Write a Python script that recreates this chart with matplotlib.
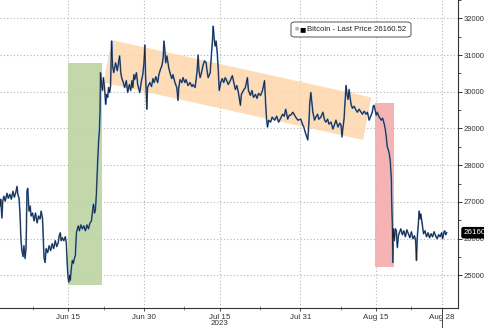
import pandas as pd
import matplotlib
matplotlib.use("Agg")
import matplotlib.pyplot as plt
import matplotlib.dates as mdates
from matplotlib.patches import Rectangle, Polygon, FancyBboxPatch

# bitcoin price, days counted from 2023-06-01 00:00
days = [
    0.46, 0.6, 0.84, 1.0, 1.24, 1.5, 1.84, 2.1, 2.43, 2.7, 3.03, 3.3, 3.6, 3.83, 4.0, 4.23, 4.4, 4.63, 4.8, 5.03,
    5.2, 5.43, 5.62, 5.82, 5.95, 6.1, 6.22, 6.45, 6.62, 6.9, 7.22, 7.5, 7.82, 8.1, 8.4, 8.62, 8.9, 9.05, 9.21, 9.4,
    9.61, 9.9, 10.21, 10.5, 10.81, 11.1, 11.41, 11.7, 12.01, 12.2, 12.41, 12.6, 12.8, 13.1, 13.4, 13.6, 13.8, 13.95, 14.1, 14.25,
    14.4, 14.6, 14.8, 15.0, 15.2, 15.4, 15.6, 15.8, 16.0, 16.2, 16.5, 16.79, 17.1, 17.39, 17.7, 17.99, 18.3, 18.59, 18.8, 18.99,
    19.2, 19.39, 19.59, 19.7, 19.79, 20.0, 20.18, 20.28, 20.38, 20.55, 20.78, 20.95, 21.18, 21.4, 21.58, 21.8, 21.98, 22.2, 22.38, 22.58,
    22.7, 22.78, 23.0, 23.37, 23.7, 24.17, 24.4, 24.57, 24.9, 25.17, 25.5, 25.77, 26.1, 26.37, 26.6, 26.77, 27.0, 27.16, 27.5, 27.76,
    28.16, 28.5, 28.76, 29.0, 29.16, 29.3, 29.45, 29.56, 29.7, 30.16, 30.5, 30.76, 31.0, 31.35, 31.7, 31.95, 32.3, 32.55, 32.8, 32.95,
    33.1, 33.3, 33.55, 33.9, 34.15, 34.5, 34.74, 35.14, 35.5, 35.74, 35.9, 36.14, 36.5, 36.74, 37.1, 37.34, 37.74, 38.13, 38.5, 38.73,
    39.13, 39.5, 39.73, 39.9, 40.13, 40.4, 40.73, 41.0, 41.32, 41.5, 41.72, 42.12, 42.4, 42.6, 42.72, 42.9, 43.12, 43.3, 43.52, 43.7,
    43.92, 44.2, 44.52, 44.8, 45.11, 45.4, 45.71, 46.1, 46.51, 46.8, 47.11, 47.4, 47.71, 48.11, 48.3, 48.7, 49.1, 49.3, 49.5, 49.7,
    50.1, 50.4, 50.7, 51.1, 51.4, 51.7, 52.1, 52.49, 52.7, 52.89, 53.1, 53.29, 53.49, 53.7, 54.09, 54.4, 54.89, 55.3, 55.68, 56.1,
    56.48, 56.8, 57.08, 57.3, 57.48, 57.8, 58.08, 58.5, 59.08, 59.5, 60.07, 60.4, 60.67, 61.07, 61.47, 61.7, 61.87, 62.07, 62.3, 62.47,
    62.8, 63.06, 63.4, 63.66, 64.06, 64.46, 64.8, 65.06, 65.4, 65.66, 66.06, 66.45, 66.8, 67.05, 67.45, 67.8, 68.05, 68.25, 68.45, 68.65,
    68.85, 69.05, 69.25, 69.45, 69.65, 69.85, 70.05, 70.3, 70.64, 71.04, 71.3, 71.64, 72.04, 72.3, 72.64, 73.04, 73.3, 73.63, 74.03, 74.25,
    74.43, 74.6, 74.83, 75.03, 75.23, 75.63, 76.03, 76.3, 76.63, 76.85, 77.02, 77.22, 77.42, 77.62, 77.82, 78.02, 78.12, 78.22, 78.32, 78.42,
    78.52, 78.62, 78.82, 79.02, 79.22, 79.42, 79.62, 79.9, 80.22, 80.5, 80.81, 81.1, 81.41, 81.7, 82.01, 82.3, 82.61, 82.85, 83.01, 83.15,
    83.35, 83.55, 83.7, 83.85, 84.01, 84.2, 84.41, 84.7, 85.0, 85.3, 85.6, 85.9, 86.2, 86.5, 86.8, 87.1, 87.4, 87.7, 88.0, 88.2,
    88.4, 88.6, 88.79, 88.99,
]
prices = [
    26886, 27074, 26562, 27020, 27155, 27020, 27235, 27100, 27208, 27074, 27290, 27128, 27262, 27424, 27208, 27100, 26750, 25944, 25674, 25512,
    25808, 25459, 25728, 27290, 27370, 27020, 26750, 26886, 26616, 26697, 26482, 26697, 26428, 26616, 26535, 26750, 26535, 25944, 25459, 25351,
    25728, 25620, 25808, 25674, 25862, 25728, 25944, 25782, 25890, 26078, 26159, 25944, 26024, 25944, 26051, 25890, 25270, 24947, 24813, 25001,
    24866, 25190, 25405, 25324, 25459, 25540, 26159, 26267, 26347, 26213, 26374, 26267, 26347, 26213, 26374, 26267, 26428, 26482, 26750, 26940,
    26697, 26804, 27290, 27693, 28016, 28635, 28985, 29443, 30520, 30250, 30035, 30385, 30116, 29658, 29927, 29847, 30116, 29981, 30170, 31381,
    30923, 30708, 30520, 30789, 30573, 30977, 30520, 30385, 30250, 30116, 30304, 29981, 30197, 30035, 30304, 30116, 30466, 30331, 30520, 30197,
    29981, 30304, 30466, 30789, 31273, 30520, 29981, 29524, 30116, 30250, 30143, 30358, 30250, 30412, 30250, 30466, 30627, 30708, 30923, 31381,
    31193, 30789, 30977, 30654, 30520, 30358, 30466, 30250, 30116, 29766, 30116, 30331, 30250, 30385, 30250, 30331, 30170, 30250, 30143, 30197,
    30116, 30520, 31004, 30573, 30385, 30520, 30735, 30843, 30789, 30573, 30385, 30520, 31058, 31462, 31785, 31462, 31246, 31381, 31058, 30654,
    30035, 30250, 30358, 30250, 30385, 30304, 30197, 30304, 30439, 30250, 30062, 30170, 29981, 29631, 29927, 30035, 30116, 30250, 30385, 30035,
    29901, 30035, 29847, 29927, 29820, 29954, 29901, 30035, 30170, 30304, 29712, 29254, 29039, 29227, 29174, 29308, 29227, 29335, 29174, 29281,
    29389, 29335, 29524, 29389, 29254, 29362, 29362, 29443, 29308, 29227, 29254, 29120, 29039, 28851, 28689, 29174, 29712, 29981, 29658, 29443,
    29227, 29308, 29389, 29254, 29308, 29443, 29227, 29174, 29254, 29120, 29174, 28985, 29120, 29227, 29039, 29147, 29093, 28770, 29039, 29254,
    29712, 30170, 29927, 29793, 30062, 29847, 29658, 29551, 29604, 29497, 29443, 29524, 29443, 29389, 29470, 29389, 29443, 29227, 29362, 29443,
    29604, 29631, 29497, 29362, 29443, 29308, 29227, 29281, 29120, 28958, 28770, 28500, 28420, 28312, 28097, 27639, 26885, 26401, 25351, 26266,
    26159, 25944, 26266, 26213, 25755, 26078, 26159, 26266, 26105, 26213, 26051, 26240, 26132, 26024, 26186, 25997, 26078, 25944, 25405, 25997,
    26347, 26750, 26536, 26670, 26536, 26347, 26132, 26213, 26051, 26159, 26024, 26132, 26051, 26186, 26078, 25997, 26105, 26051, 26159, 25997,
    26159, 26213, 26105, 26160.52,
]

last_price = 26160.52
y_ticks = [25000, 26000, 27000, 28000, 29000, 30000, 31000, 32000]
x_ticks = ["2023-06-15", "2023-06-30", "2023-07-15", "2023-07-31", "2023-08-15", "2023-08-28"]
x_tick_labels = ["Jun 15", "Jun 30", "Jul 15\n2023", "Jul 31", "Aug 15", "Aug 28"]
x_minor = ["2023-06-08", "2023-06-22", "2023-07-08", "2023-07-23", "2023-08-08", "2023-08-22"]

# highlighted zones (start day, end day, low, high)
green_zone = (14.0, 20.58, 24750, 30780)
red_zone = (74.83, 78.62, 25215, 29685)
# falling channel corners (day, price)
channel = [(22.58, 31408), (74.03, 29846), (72.44, 28688), (20.98, 30250)]

start = pd.Timestamp("2023-06-01")
def to_num(d):
    return mdates.date2num(start + pd.to_timedelta(d, unit="D"))

dates = start + pd.to_timedelta(days, unit="D")

plt.rcParams['font.family'] = ['Liberation Sans', 'DejaVu Sans']
fig = plt.figure(figsize=(4.85, 3.28), dpi=100)
ax = fig.add_axes([0, 1 - 308 / 328, 458 / 485, 308 / 328])

# shaded zones
g0, g1 = to_num(green_zone[0]), to_num(green_zone[1])
ax.add_patch(Rectangle((g0, green_zone[2]), g1 - g0, green_zone[3] - green_zone[2],
                       facecolor="#bcd4a2", edgecolor="none", alpha=0.9, zorder=1))
r0, r1 = to_num(red_zone[0]), to_num(red_zone[1])
ax.add_patch(Rectangle((r0, red_zone[2]), r1 - r0, red_zone[3] - red_zone[2],
                       facecolor="#f5abab", edgecolor="none", alpha=0.9, zorder=1))
ax.add_patch(Polygon([(to_num(d), p) for d, p in channel], closed=True,
                     facecolor="#fdd6ab", edgecolor="none", alpha=0.85, zorder=1))

# price line
ax.plot(dates, prices, color="#4d80c2", lw=1.2, zorder=3)
ax.plot(dates, prices, color="#1a1f2a", lw=0.55, zorder=4)

ax.set_xlim(to_num(0.46), to_num(91.24))
ax.set_ylim(24110, 32404)

ax.set_xticks([mdates.date2num(pd.Timestamp(d)) for d in x_ticks])
ax.set_xticklabels(x_tick_labels)
ax.set_xticks([mdates.date2num(pd.Timestamp(d)) for d in x_minor], minor=True)
ax.set_yticks(y_ticks)
ax.set_yticks([v + 500 for v in y_ticks], minor=True)

ax.yaxis.tick_right()
ax.tick_params(axis="y", which="major", labelsize=5.5, length=3, width=0.7,
               colors="#333333", pad=1.2, direction="out")
ax.tick_params(axis="y", which="minor", length=2, width=0.6, colors="#333333")
ax.tick_params(axis="x", which="major", labelsize=5.8, length=2, width=0.6,
               colors="#333333", pad=2)
ax.tick_params(axis="x", which="minor", length=3, width=0.6, colors="#777777", direction="inout")
for lab in ax.get_xticklabels():
    lab.set_linespacing(0.95)

for side in ["top", "left"]:
    ax.spines[side].set_visible(False)
for side in ["right", "bottom"]:
    ax.spines[side].set_color("#333333")
    ax.spines[side].set_linewidth(0.8)

ax.grid(True, which="major", color="#b4b4b4", linestyle=(0, (1, 2)), linewidth=0.8, zorder=0)
ax.set_axisbelow(True)

# legend box
fig.patches.append(FancyBboxPatch((291 / 485, 1 - 37 / 328), 120 / 485, 15 / 328,
                                  boxstyle="round,pad=0,rounding_size=0.008",
                                  transform=fig.transFigure, facecolor="white",
                                  edgecolor="#555555", linewidth=0.7, zorder=5))
fig.text(294.5 / 485, 1 - 29.5 / 328, "\u25a0", color="#b0b0b0", fontsize=5, va="center", zorder=6)
fig.text(299 / 485, 1 - 29.5 / 328, "\u25a0", color="black", fontsize=7.5, va="center", zorder=6)
fig.text(307 / 485, 1 - 29.5 / 328, "Bitcoin - Last Price %.2f" % last_price,
         color="#222222", fontsize=5.6, va="center", zorder=6)

# last price tag on the right axis (cut by the figure edge, as in the source)
ax.annotate("%.2f" % last_price, xy=(1.0, last_price), xycoords=("axes fraction", "data"),
            xytext=(4, 0), textcoords="offset points", fontsize=5.8, color="white",
            va="center", ha="left",
            bbox=dict(boxstyle="round,pad=0.2,rounding_size=0.2", fc="black", ec="black"),
            annotation_clip=False, zorder=7)

# marker line under the last date
ax.plot([to_num(88.0)] * 2, [0, -0.07], transform=ax.get_xaxis_transform(),
        color="#444444", lw=0.7, clip_on=False)

fig.savefig("out.png", dpi=100)
